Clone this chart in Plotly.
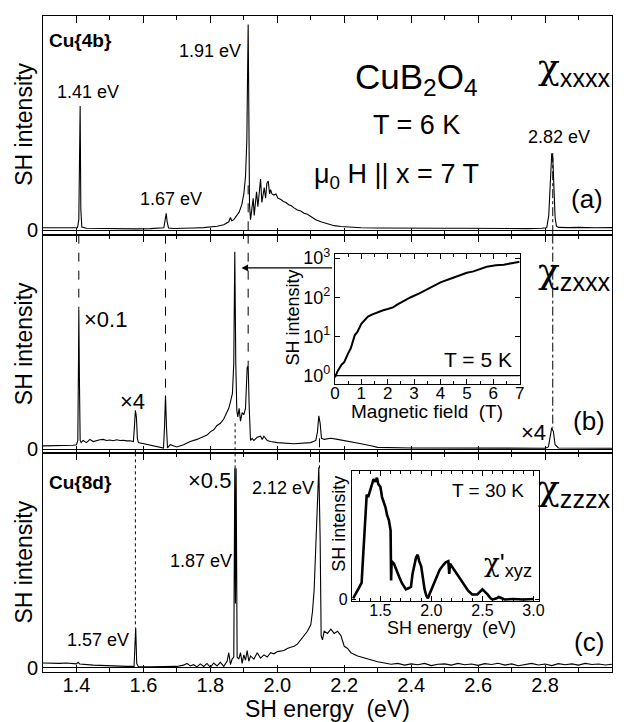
import plotly.graph_objects as go

# ---------------- data ----------------
# Panel (a): chi_xxxx, (energy eV, SH intensity normalised)
A_PTS = [(1.30,0.012),(1.33,0.011),(1.36,0.010),(1.39,0.011),(1.403,0.012),(1.407,0.05),(1.409,0.35),
         (1.411,0.58),(1.413,0.10),(1.416,0.015),(1.43,0.010),(1.46,0.009),(1.50,0.008),(1.54,0.008),
         (1.58,0.007),(1.62,0.008),(1.65,0.009),(1.661,0.012),(1.665,0.05),(1.668,0.08),(1.671,0.04),
         (1.675,0.011),(1.69,0.009),(1.72,0.009),(1.75,0.011),(1.78,0.013),(1.80,0.015),(1.82,0.019),
         (1.84,0.026),(1.855,0.04),(1.860,0.06),(1.864,0.045),(1.870,0.05),(1.878,0.065),(1.886,0.085),
         (1.894,0.12),(1.900,0.17),(1.905,0.25),(1.909,0.42),(1.911,0.70),(1.913,0.96),(1.915,0.55),
         (1.917,0.12),(1.920,0.05),(1.924,0.10),(1.928,0.15),(1.931,0.07),(1.934,0.12),(1.938,0.18),
         (1.942,0.11),(1.946,0.19),(1.950,0.24),(1.954,0.13),(1.957,0.17),(1.961,0.20),(1.965,0.15),
         (1.969,0.22),(1.973,0.23),(1.977,0.17),(1.980,0.19),(1.984,0.17),(1.990,0.165),(1.996,0.17),
         (2.002,0.15),(2.010,0.145),(2.018,0.135),(2.026,0.13),(2.034,0.12),(2.042,0.115),(2.050,0.105),
         (2.060,0.095),(2.070,0.09),(2.080,0.08),(2.090,0.075),(2.100,0.065),(2.115,0.05),(2.130,0.04),
         (2.150,0.03),(2.170,0.022),(2.190,0.018),(2.210,0.015),(2.250,0.012),(2.300,0.011),(2.350,0.010),
         (2.400,0.011),(2.450,0.009),(2.500,0.010),(2.550,0.010),(2.600,0.009),(2.650,0.011),(2.700,0.010),
         (2.750,0.008),(2.790,0.010),(2.805,0.012),(2.811,0.07),(2.816,0.28),(2.820,0.36),(2.823,0.34),
         (2.826,0.22),(2.830,0.06),(2.834,0.02),(2.840,0.014),(2.870,0.013),(2.900,0.014),(2.950,0.012),
         (3.000,0.013)]

# Panel (b): chi_zxxx
B_PTS = [(1.30,0.015),(1.33,0.016),(1.36,0.015),(1.39,0.018),(1.400,0.02),(1.404,0.04),(1.406,0.40),
         (1.407,0.65),(1.409,0.30),(1.411,0.04),(1.414,0.03),(1.42,0.04),(1.43,0.03),(1.44,0.045),
         (1.45,0.035),(1.46,0.04),(1.47,0.043),(1.48,0.045),(1.49,0.04),(1.50,0.042),(1.51,0.039),
         (1.52,0.043),(1.53,0.04),(1.54,0.041),(1.55,0.038),(1.56,0.039),(1.570,0.035),(1.573,0.10),
         (1.576,0.18),(1.579,0.15),(1.582,0.05),(1.585,0.03),(1.60,0.025),(1.62,0.018),(1.64,0.012),
         (1.660,0.005),(1.663,0.10),(1.666,0.25),(1.669,0.10),(1.672,0.005),(1.68,0.02),(1.69,0.015),
         (1.70,0.010),(1.72,0.02),(1.74,0.035),(1.76,0.045),(1.78,0.06),(1.79,0.065),(1.80,0.08),
         (1.81,0.09),(1.82,0.11),(1.83,0.12),(1.84,0.14),(1.850,0.17),(1.855,0.19),(1.860,0.22),
         (1.866,0.26),(1.870,0.40),(1.873,0.92),(1.876,0.40),(1.879,0.18),(1.882,0.15),(1.886,0.19),
         (1.890,0.13),(1.895,0.17),(1.900,0.16),(1.905,0.19),(1.910,0.38),(1.913,0.39),(1.916,0.20),
         (1.920,0.04),(1.925,0.05),(1.930,0.04),(1.94,0.055),(1.95,0.06),(1.955,0.045),(1.96,0.06),
         (1.97,0.04),(1.98,0.035),(2.00,0.03),(2.05,0.025),(2.10,0.03),(2.115,0.04),(2.120,0.08),
         (2.124,0.155),(2.128,0.12),(2.132,0.05),(2.14,0.045),(2.16,0.05),(2.18,0.045),(2.20,0.04),
         (2.22,0.035),(2.25,0.025),(2.28,0.015),(2.30,0.008),(2.40,0.005),(2.50,0.004),(2.60,0.004),
         (2.70,0.004),(2.80,0.004),(2.810,0.01),(2.815,0.06),(2.820,0.10),(2.825,0.08),(2.830,0.02),
         (2.84,0.005),(2.90,0.004),(3.00,0.004)]

# Panel (c): chi_zzzx
C_PTS = [(1.30,0.022),(1.32,0.02),(1.35,0.02),(1.37,0.022),(1.40,0.018),(1.405,0.025),(1.41,0.017),
         (1.45,0.012),(1.50,0.008),(1.55,0.006),(1.572,0.006),(1.575,0.12),(1.577,0.185),(1.580,0.02),
         (1.585,0.005),(1.62,0.004),(1.66,0.004),(1.70,0.006),(1.72,0.012),(1.73,0.02),(1.74,0.008),
         (1.75,0.014),(1.76,0.004),(1.77,0.018),(1.78,0.006),(1.79,0.02),(1.80,0.002),(1.81,0.022),
         (1.82,0.008),(1.83,0.025),(1.84,0.006),(1.85,0.03),(1.855,0.07),(1.86,0.015),(1.865,0.04),
         (1.870,0.05),(1.873,0.93),(1.875,0.30),(1.877,0.93),(1.880,0.05),(1.885,0.04),(1.89,0.07),
         (1.895,0.02),(1.90,0.06),(1.905,0.035),(1.91,0.08),(1.915,0.03),(1.92,0.055),(1.93,0.04),
         (1.94,0.07),(1.95,0.045),(1.96,0.06),(1.97,0.05),(1.98,0.07),(1.99,0.065),(2.00,0.075),
         (2.02,0.08),(2.03,0.09),(2.04,0.095),(2.05,0.10),(2.06,0.11),(2.07,0.13),(2.08,0.15),
         (2.09,0.17),(2.10,0.20),(2.105,0.26),(2.11,0.36),(2.115,0.55),(2.120,0.80),(2.124,0.935),
         (2.128,0.60),(2.131,0.15),(2.135,0.13),(2.14,0.17),(2.15,0.16),(2.16,0.18),(2.17,0.16),
         (2.18,0.17),(2.19,0.15),(2.20,0.10),(2.21,0.09),(2.22,0.07),(2.24,0.055),(2.26,0.045),
         (2.28,0.035),(2.30,0.028),(2.32,0.022),(2.34,0.016),(2.36,0.02),(2.38,0.012),(2.40,0.018),
         (2.42,0.014),(2.44,0.02),(2.46,0.01),(2.48,0.016),(2.50,0.018),(2.52,0.012),(2.54,0.02),
         (2.56,0.014),(2.58,0.017),(2.60,0.011),(2.62,0.019),(2.64,0.015),(2.66,0.021),(2.68,0.012),
         (2.70,0.018),(2.72,0.009),(2.74,0.016),(2.76,0.02),(2.78,0.013),(2.80,0.017),(2.82,0.01),
         (2.84,0.019),(2.86,0.014),(2.88,0.018),(2.90,0.012),(2.92,0.02),(2.94,0.015),(2.96,0.017),
         (2.98,0.013),(3.00,0.016)]

# Inset (b): magnetic field (T) vs SH intensity (log)
FIELD_PTS = [(0.0,0.9),(0.1,1.3),(0.25,1.9),(0.35,2.2),(0.5,3.7),(0.6,5.0),(0.75,10.7),(0.85,13),
             (1.0,21),(1.1,25),(1.25,32),(1.4,36),(1.63,42),(1.8,46),(2.0,50),(2.2,55),(2.375,66),
             (2.6,80),(2.875,100),(3.2,125),(3.5,158),(3.75,195),(4.0,240),(4.4,300),(4.75,370),
             (5.0,420),(5.25,457),(5.5,530),(5.75,600),(6.1,650),(6.4,676),(6.7,740),(7.0,800)]

# Inset (c): chi'_xyz at T = 30 K
XYZ_PTS = [(1.233,0.01),(1.283,0.08),(1.316,0.13),(1.333,0.37),(1.35,0.60),(1.366,0.82),(1.38,0.80),
           (1.40,0.85),(1.415,0.90),(1.433,0.94),(1.45,0.92),(1.466,0.95),(1.48,0.90),(1.50,0.88),
           (1.516,0.80),(1.535,0.76),(1.55,0.72),(1.565,0.66),(1.583,0.62),(1.60,0.54),(1.605,0.15),
           (1.61,0.30),(1.633,0.28),(1.66,0.22),(1.683,0.18),(1.71,0.13),(1.75,0.08),(1.78,0.09),
           (1.80,0.10),(1.815,0.20),(1.833,0.28),(1.85,0.33),(1.866,0.35),(1.88,0.30),(1.90,0.26),
           (1.915,0.16),(1.933,0.08),(1.95,0.03),(1.966,0.01),(1.98,0.04),(2.00,0.08),(2.025,0.13),
           (2.05,0.18),(2.08,0.23),(2.116,0.27),(2.14,0.29),(2.166,0.30),(2.175,0.20),(2.183,0.28),
           (2.20,0.26),(2.233,0.23),(2.27,0.18),(2.316,0.13),(2.36,0.07),(2.40,0.04),(2.45,0.04),
           (2.50,0.08),(2.53,0.06),(2.55,0.04),(2.58,0.01),(2.60,0.0),(2.64,0.01),(2.66,0.02),
           (2.69,0.01),(2.72,0.0),(2.80,0.005),(2.90,0.0),(3.00,0.005)]

MAIN_TICKS = [1.4, 1.6, 1.8, 2.0, 2.2, 2.4, 2.6, 2.8]
MAIN_TICKTEXT = ["1.4", "1.6", "1.8", "2.0", "2.2", "2.4", "2.6", "2.8"]
INSET_C_TICKS = [1.5, 2.0, 2.5, 3.0]
INSET_C_TICKTEXT = ["1.5", "2.0", "2.5", "3.0"]
INSET_B_TICKS = [1, 10, 100, 1000]
INSET_B_TICKTEXT = ["10<sup>0</sup>", "10<sup>1</sup>", "10<sup>2</sup>", "10<sup>3</sup>"]

# guide lines: (energy, panel, y_from, y_to, dash)
GUIDES = [(1.407, "b", 1.0, 0.65, "dash"),
          (1.666, "b", 1.0, 0.25, "dash"),
          (1.913, "a", 0.21, -0.02, "dash"),
          (1.913, "b", 1.0, 0.39, "dash"),
          (1.576, "b", 0.0, -0.02, "dot"),
          (1.576, "c", 1.0, 0.185, "dot"),
          (1.874, "b", 0.12, -0.02, "dot"),
          (1.874, "c", 1.0, 0.93, "dot"),
          (2.126, "b", 0.05, -0.02, "dashdot"),
          (2.126, "c", 1.0, 0.93, "dashdot"),
          (2.823, "a", 0.36, -0.02, "dashdot"),
          (2.823, "b", 1.0, 0.10, "dashdot")]


def unzip(pts):
    return [p[0] for p in pts], [p[1] for p in pts]


W, H = 626, 722
ML, MR, MT, MB = 43, 10, 8, 50
PW, PH = W - ML - MR, H - MT - MB
FONT = "Liberation Sans, Arial, Helvetica, sans-serif"
CHI_FONT = "DejaVu Serif"


def px2paper(xp, yp):
    return (xp - ML) / PW, (H - MB - yp) / PH


fig = go.Figure()
line_main = dict(color="black", width=1.1)
for pts, xa, ya in [(A_PTS, "x3", "y3"), (B_PTS, "x2", "y2"), (C_PTS, "x", "y")]:
    ex, iy = unzip(pts)
    fig.add_trace(go.Scatter(x=ex, y=iy, xaxis=xa, yaxis=ya, mode="lines", line=line_main,
                             showlegend=False, hoverinfo="skip"))

bx, by = unzip(FIELD_PTS)
fig.add_trace(go.Scatter(x=bx, y=by, xaxis="x4", yaxis="y4", mode="lines",
                         line=dict(color="black", width=2), showlegend=False, hoverinfo="skip"))
cx, cy = unzip(XYZ_PTS)
fig.add_trace(go.Scatter(x=cx, y=cy, xaxis="x5", yaxis="y5", mode="lines",
                         line=dict(color="black", width=2.6), showlegend=False, hoverinfo="skip"))

main_x = dict(range=[1.3, 3.0], tickvals=MAIN_TICKS, ticktext=MAIN_TICKTEXT, ticks="inside",
              ticklen=7, tickwidth=1, tickcolor="black", showline=True, linecolor="black",
              linewidth=1, mirror="ticks", showgrid=False, zeroline=False,
              minor=dict(dtick=0.1, tick0=1.3, ticks="inside", ticklen=4, tickcolor="black", showgrid=False),
              tickfont=dict(size=20, family=FONT, color="black"))
main_y = dict(range=[-0.02, 1.0], tickvals=[0], ticktext=["0"], ticks="inside", ticklen=5,
              tickcolor="black", showline=True, linecolor="black", linewidth=1, mirror="ticks",
              showgrid=False, zeroline=True, zerolinecolor="black", zerolinewidth=1,
              tickfont=dict(size=20, family=FONT, color="black"))

third = 1.0 / 3.0
layout = dict(
    width=W, height=H, margin=dict(l=ML, r=MR, t=MT, b=MB, pad=0),
    paper_bgcolor="white", plot_bgcolor="white",
    font=dict(family=FONT, color="black"),
    xaxis=dict(main_x, anchor="y", domain=[0, 1], ticklabelstandoff=-5),
    xaxis2=dict(main_x, anchor="y2", domain=[0, 1], showticklabels=False),
    xaxis3=dict(main_x, anchor="y3", domain=[0, 1], showticklabels=False),
    yaxis=dict(main_y, anchor="x", domain=[0, third]),
    yaxis2=dict(main_y, anchor="x2", domain=[third, 2 * third]),
    yaxis3=dict(main_y, anchor="x3", domain=[2 * third, 1]),
)

# inset (b)
ib_x0, ib_y0 = px2paper(337, 380)
ib_x1, ib_y1 = px2paper(523, 249)
layout["xaxis4"] = dict(anchor="y4", domain=[ib_x0, ib_x1], range=[0, 7], dtick=1, ticks="inside",
                        ticklen=5, tickcolor="black", showline=True, linecolor="black", mirror="ticks",
                        showgrid=False, zeroline=False, ticklabelstandoff=-6,
                        minor=dict(dtick=0.5, ticks="inside", ticklen=3, tickcolor="black"),
                        tickfont=dict(size=17, family=FONT, color="black"))
layout["yaxis4"] = dict(anchor="x4", domain=[ib_y0, ib_y1], type="log", range=[-0.2, 3.1],
                        tickvals=INSET_B_TICKS, ticktext=INSET_B_TICKTEXT, ticks="inside", ticklen=5,
                        tickcolor="black", showline=True, linecolor="black", mirror="ticks",
                        showgrid=False, zeroline=False,
                        tickfont=dict(size=18, family=FONT, color="black"))
# inset (c)
ic_x0, ic_y0 = px2paper(354, 600)
ic_x1, ic_y1 = px2paper(542, 469)
layout["xaxis5"] = dict(anchor="y5", domain=[ic_x0, ic_x1], range=[1.22, 3.05], tickvals=INSET_C_TICKS,
                        ticktext=INSET_C_TICKTEXT, ticks="inside", ticklen=5, tickcolor="black",
                        showline=True, linecolor="black", mirror="ticks", showgrid=False, zeroline=False,
                        ticklabelstandoff=-5,
                        minor=dict(dtick=0.1, tick0=1.2, ticks="inside", ticklen=3, tickcolor="black"),
                        tickfont=dict(size=16, family=FONT, color="black"))
layout["yaxis5"] = dict(anchor="x5", domain=[ic_y0, ic_y1], range=[-0.01, 1.0], tickvals=[0],
                        ticktext=["0"], ticks="inside", ticklen=4, tickcolor="black", showline=True,
                        linecolor="black", mirror="ticks", showgrid=False, zeroline=False,
                        tickfont=dict(size=16, family=FONT, color="black"))

fig.update_layout(**layout)

# inset (b) reference line at 10^0
fig.add_shape(type="line", xref="x4", yref="y4", x0=0, x1=7, y0=1, y1=1,
              line=dict(color="black", width=1.2))

# guide lines
panel_axes = {"a": ("x3", "y3"), "b": ("x2", "y2"), "c": ("x", "y")}
for e, pnl, yf, yt, dash in GUIDES:
    xa, ya = panel_axes[pnl]
    fig.add_shape(type="line", xref=xa, yref=ya, x0=e, x1=e, y0=yf, y1=yt,
                  line=dict(color="black", width=1, dash=dash))

# arrow from inset to 1.87 eV peak in panel (b)
fig.add_annotation(x=1.893, y=0.845, xref="x2", yref="y2", ax=2.168, ay=0.845, axref="x2",
                   ayref="y2", showarrow=True, arrowhead=2, arrowsize=1.1, arrowwidth=1.2,
                   arrowcolor="black", text="")

NB = "\u00a0"


def ann(text, xp, yp, size, xanchor="center", angle=0):
    x, y = px2paper(xp, yp)
    fig.add_annotation(text=text, x=x, y=y, xref="paper", yref="paper", showarrow=False,
                       xanchor=xanchor, yanchor="middle", textangle=angle,
                       font=dict(size=size, family=FONT, color="black"))


def chi(sub, prime=""):
    return ('<span style="font-family:' + CHI_FONT + '">χ</span>' + prime +
            "<sub>" + sub + "</sub>")


# panel (a)
ann("<b>Cu{4b}</b>", 47, 33, 19, "left")
ann("1.41 eV", 88, 85, 18)
ann("1.91 eV", 211, 43, 18)
ann("1.67 eV", 172, 193, 18)
ann("CuB<sub>2</sub>O<sub>4</sub>", 419, 72, 35)
ann("T = 6 K", 419, 118, 27)
ann("μ<sub>0</sub> H || x = 7 T", 399, 170, 27)
ann(chi("xxxx"), 617, 62, 36, "right")
ann("2.82 eV", 563, 130, 18)
ann("(a)", 591, 193, 26)
# panel (b)
ann("×0.1", 82, 315, 22, "left")
ann("×4", 119, 398, 22, "left")
ann(chi("zxxx"), 617, 268, 36, "right")
ann("(b)", 593, 418, 26)
ann("×4", 537, 430, 22)
ann("T = 5 K", 481, 356, 21)
ann("Magnetic field" + NB + NB + "(T)", 430, 408, 19)
ann("SH intensity", 295, 313, 18, angle=-90)
# panel (c)
ann("<b>Cu{8d}</b>", 47, 480, 19, "left")
ann("×0.5", 211, 478, 22)
ann("2.12 eV", 285, 486, 18)
ann("1.87 eV", 202, 560, 18)
ann("1.57 eV", 98, 640, 18)
ann(chi("zzzx"), 617, 488, 36, "right")
ann("(c)", 593, 642, 26)
ann("T = 30 K", 491, 488, 19)
ann(chi("xyz", "'"), 511, 563, 26)
ann("SH energy" + NB + NB + "(eV)", 454, 627, 18)
ann("SH intensity", 341, 522, 18, angle=-90)
# main axis titles
for yc in (118, 340, 561):
    ann("SH intensity", 24, yc, 23, angle=-90)
ann("SH energy" + NB + NB + "(eV)", 330, 709, 23)

fig.write_html("out.html")
